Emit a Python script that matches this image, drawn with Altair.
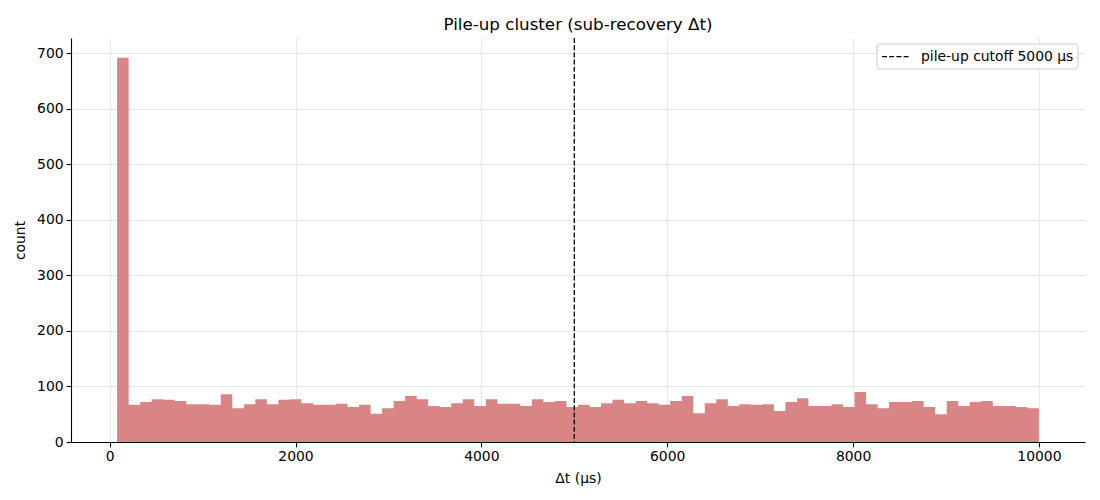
import altair as alt
import pandas as pd

# Histogram counts (80 bins from 80 to 10000 µs)
counts = [692, 67, 72, 77, 76, 74, 68, 68, 67, 86,
          61, 68, 77, 68, 76, 77, 70, 67, 67, 69,
          63, 67, 51, 61, 74, 83, 77, 65, 63, 70,
          77, 65, 77, 69, 69, 65, 77, 72, 74, 63,
          67, 63, 70, 76, 70, 74, 70, 67, 74, 83,
          52, 70, 77, 65, 68, 67, 68, 56, 72, 79,
          65, 65, 68, 63, 90, 68, 61, 72, 72, 74,
          63, 50, 74, 65, 72, 74, 65, 65, 63, 61]
bin_start = 80
bin_width = 124
cutoff = [5000]
cutoff_label = "pile-up cutoff 5000 µs"
x_ticks = [0, 2000, 4000, 6000, 8000, 10000]
y_ticks = [0, 100, 200, 300, 400, 500, 600, 700]

# step outline: one point per bin edge (last edge repeats last count)
edges = [bin_start + bin_width * i for i in range(len(counts) + 1)]
hist = pd.DataFrame({"edge": edges, "count": counts + [counts[-1]]})
vline = pd.DataFrame({"x": cutoff})
legend_df = pd.DataFrame({"label": [cutoff_label]})

FONT = "DejaVu Sans"
BAR = "#d98585"
xscale = alt.Scale(domain=[-416, 10496], nice=False, zero=False)
yscale = alt.Scale(domain=[0, 727.6], nice=False)

bars = alt.Chart(hist).mark_area(fill=BAR, interpolate="step-after").encode(
    x=alt.X("edge:Q", scale=xscale,
            axis=alt.Axis(title="Δt (µs)", values=x_ticks, format="d")),
    y=alt.Y("count:Q", scale=yscale, stack=None,
            axis=alt.Axis(title="count", values=y_ticks, format="d")),
    y2=alt.datum(0),
)

rule = alt.Chart(vline).mark_rule(
    color="black", strokeWidth=1.3, strokeDash=[5, 2.2]
).encode(x=alt.X("x:Q", scale=xscale))

# legend box drawn in pixel space (top-right of the plot)
leg_box = alt.Chart(legend_df).mark_rect(
    fill="white", fillOpacity=0.8, stroke="#cccccc", strokeWidth=1,
    cornerRadius=3,
).encode(x=alt.value(806), x2=alt.value(1007), y=alt.value(6), y2=alt.value(31))
leg_line = alt.Chart(legend_df).mark_rule(
    color="black", strokeWidth=1.3, strokeDash=[5, 2.2]
).encode(x=alt.value(811), x2=alt.value(839), y=alt.value(18.7))
leg_text = alt.Chart(legend_df).mark_text(
    font=FONT, fontSize=13.9, color="black", align="left", baseline="middle",
).encode(x=alt.value(850), y=alt.value(19), text="label:N")

chart = alt.layer(bars, rule, leg_box, leg_line, leg_text).properties(
    width=1014, height=404,
    title=alt.TitleParams("Pile-up cluster (sub-recovery Δt)", font=FONT,
                          fontSize=16.7, fontWeight="normal", color="black",
                          offset=4),
    padding={"left": 63, "top": 30, "right": 7, "bottom": 50},
    autosize=alt.AutoSizeParams(type="none"),
).configure_view(stroke=None).configure_axis(
    labelFont=FONT, titleFont=FONT, labelFontSize=13.9, titleFontSize=13.9,
    titleFontWeight="normal", labelColor="black", titleColor="black",
    domainColor="black", domainWidth=1.1, tickColor="black", tickWidth=1.1,
    tickSize=4.9, gridColor="#e6e6e6", gridWidth=1.1, labelPadding=3,
).configure_axisX(titlePadding=8).configure_axisY(titlePadding=9)

chart.save("out.html", embed_options={"renderer": "svg", "actions": False})
